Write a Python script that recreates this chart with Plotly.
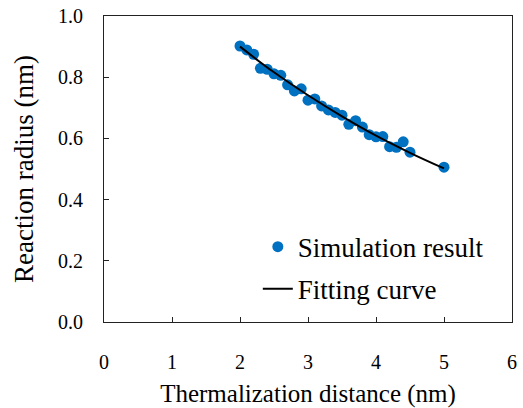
import plotly.graph_objects as go

# Simulation data
sim_x = [2.0, 2.1, 2.2, 2.3, 2.4, 2.5, 2.6, 2.7, 2.8, 2.9, 3.0, 3.1, 3.2, 3.3,
         3.4, 3.5, 3.6, 3.7, 3.8, 3.9, 4.0, 4.1, 4.2, 4.3, 4.4, 4.5, 5.0]
sim_y = [0.902, 0.889, 0.875, 0.829, 0.826, 0.811, 0.806, 0.775, 0.755, 0.762,
         0.725, 0.729, 0.706, 0.693, 0.685, 0.676, 0.646, 0.658, 0.637, 0.612,
         0.605, 0.606, 0.573, 0.571, 0.589, 0.555, 0.506]

# Fitting curve
fit_x = [2.0, 2.5, 3.0, 3.5, 4.0, 4.5, 5.0]
fit_y = [0.900, 0.816, 0.741, 0.672, 0.609, 0.553, 0.502]

x_ticks = [0, 1, 2, 3, 4, 5, 6]
y_ticks = [0.0, 0.2, 0.4, 0.6, 0.8, 1.0]

FONT = "Liberation Serif, Times New Roman, serif"

fig = go.Figure()
fig.add_trace(go.Scatter(
    x=sim_x, y=sim_y, mode="markers", name="Simulation result",
    marker=dict(color="#0070C0", size=11, line=dict(width=0)),
    legendgroup="a",
))
fig.add_trace(go.Scatter(
    x=fit_x, y=fit_y, mode="lines", name="Fitting curve",
    line=dict(color="black", width=2, shape="spline"),
    legendgroup="b",
))

axis_common = dict(
    showgrid=False, zeroline=False, showline=True, linecolor="#222222",
    linewidth=1.2, mirror=True, ticks="inside", ticklen=5, tickcolor="#222222",
    tickfont=dict(family=FONT, size=20, color="black"),
    automargin=False,
)

fig.update_layout(
    width=523, height=408,
    margin=dict(l=104, r=11, t=16, b=86, autoexpand=False),
    paper_bgcolor="white", plot_bgcolor="white",
    font=dict(family=FONT, color="black"),
    showlegend=True,
    legend=dict(
        x=0.377, y=0.176, xanchor="left", yanchor="middle",
        font=dict(family=FONT, size=27, color="black"),
        bgcolor="rgba(0,0,0,0)", tracegroupgap=4,
    ),
    xaxis=dict(
        range=[0, 6], tickvals=x_ticks, ticklabelstandoff=22,
        title=dict(text="Thermalization distance (nm)", font=dict(family=FONT, size=25), standoff=15),
        **axis_common,
    ),
    yaxis=dict(
        range=[0, 1.0], tickvals=y_ticks, tickformat=".1f", ticklabelstandoff=16,
        title=dict(text="Reaction radius (nm)", font=dict(family=FONT, size=27), standoff=16),
        **axis_common,
    ),
)

fig.write_html(
    "out.html",
    config={"displayModeBar": False},
    post_script="document.body.style.margin='0';",
)
